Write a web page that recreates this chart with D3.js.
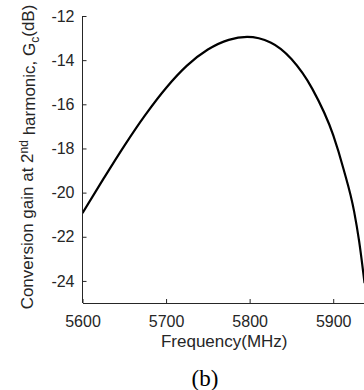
<!DOCTYPE html>
<html>
<head>
<meta charset="utf-8">
<script src="https://cdn.jsdelivr.net/npm/d3@7"></script>
<style>
  body { margin: 0; background: #fff; }
  svg { display: block; }
</style>
</head>
<body>
<div id="graf"></div>
<script>
// data
var freq = [5600, 5625, 5650, 5675, 5700, 5725, 5750, 5775, 5797, 5825, 5850, 5875, 5900, 5912.5, 5925, 5931, 5937.5]
var gain = [-20.93, -19.38, -17.88, -16.49, -15.26, -14.25, -13.52, -13.08, -12.95, -13.2, -13.95, -15.3, -17.4, -18.95, -20.85, -22.2, -24.1]
var xTicks = [5600, 5700, 5800, 5900]
var yTicks = [-12, -14, -16, -18, -20, -22, -24]

var W = 364, H = 390
var levo = 82.5, nahore = 16, dole = 303

var svg = d3.select("#graf").append("svg").attr("width", W).attr("height", H)

var x = d3.scaleLinear().domain([5600, 5940]).range([levo, levo + 340 * 0.8357])
var y = d3.scaleLinear().domain([-25, -12]).range([dole, nahore])

svg.append("clipPath").attr("id", "klip")
  .append("rect").attr("x", levo).attr("y", nahore - 5).attr("width", W - levo).attr("height", dole - nahore + 5)

// krivka
var cara = d3.line().x(function(d, i){ return x(freq[i]) }).y(function(d){ return y(d) }).curve(d3.curveMonotoneX)
svg.append("path").datum(gain)
  .attr("d", cara)
  .attr("clip-path", "url(#klip)")
  .attr("fill", "none")
  .attr("stroke", "#000")
  .attr("stroke-width", 2.2)

// osy
var osaX = d3.axisBottom(x).tickValues(xTicks).tickFormat(d3.format("d")).tickSizeInner(-4).tickSizeOuter(0).tickPadding(13)
var osaY = d3.axisLeft(y).tickValues(yTicks).tickFormat(function(d){ return d }).tickSizeInner(-4).tickSizeOuter(0).tickPadding(8)

var gx = svg.append("g").attr("transform", "translate(0," + dole + ")").call(osaX)
var gy = svg.append("g").attr("transform", "translate(" + levo + ",0)").call(osaY)
gy.select(".domain").attr("d", "M0," + dole + "V" + nahore + "H0")
svg.selectAll(".domain").attr("stroke", "#262626")
svg.selectAll(".tick line").attr("stroke", "#262626")
svg.selectAll(".tick text").attr("fill", "#262626").style("font-family", "'Liberation Sans', Arial, sans-serif").style("font-size", "16px")

// popisky
svg.append("text")
  .attr("x", (levo + 366) / 2).attr("y", 347)
  .attr("text-anchor", "middle")
  .style("font-family", "'Liberation Sans', Arial, sans-serif").style("font-size", "17px")
  .attr("fill", "#262626")
  .text("Frequency(MHz)")

var ylab = svg.append("text")
  .attr("transform", "translate(33,157) rotate(-90)")
  .attr("text-anchor", "middle")
  .style("font-family", "'Liberation Sans', Arial, sans-serif").style("font-size", "17px")
  .attr("fill", "#262626")
ylab.append("tspan").text("Conversion gain at 2")
ylab.append("tspan").attr("dy", "-0.45em").style("font-size", "12px").text("nd")
ylab.append("tspan").attr("dy", "0.45em").text(" harmonic, G")
ylab.append("tspan").attr("dy", "0.3em").style("font-size", "12px").text("c")
ylab.append("tspan").attr("dy", "-0.3em").text("(dB)")

svg.append("text")
  .attr("x", 205).attr("y", 386)
  .attr("text-anchor", "middle")
  .style("font-family", "'Liberation Serif', 'Times New Roman', serif").style("font-size", "23px")
  .attr("fill", "#000")
  .text("(b)")
</script>
</body>
</html>
